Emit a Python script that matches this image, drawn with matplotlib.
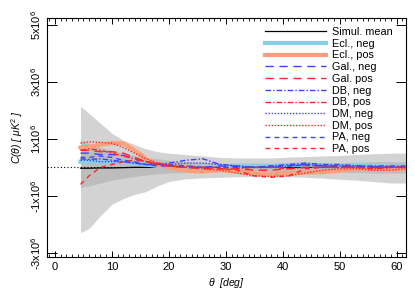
import matplotlib
matplotlib.use('Agg')
import matplotlib.pyplot as plt
from matplotlib.ticker import MultipleLocator, FixedLocator
import numpy as np

plt.rcParams['font.family'] = ['Liberation Sans', 'DejaVu Sans']
plt.rcParams['mathtext.fontset'] = 'custom'
plt.rcParams['mathtext.rm'] = 'Liberation Sans'
plt.rcParams['mathtext.it'] = 'Liberation Sans:italic'

# angular separation [deg]
theta = [4.5, 6, 8, 10, 12, 14, 16, 18, 20, 23, 26, 29, 32, 35, 38, 41, 44, 47, 50, 53, 56, 59, 61.5]

# simulation bands, in units of 1e6 uK^2
outer_hi = [2.15, 1.9, 1.55, 1.2, 0.95, 0.8, 0.65, 0.55, 0.5, 0.45, 0.4, 0.35, 0.33, 0.33, 0.33, 0.36, 0.38, 0.4, 0.42, 0.45, 0.48, 0.5, 0.5]
outer_lo = [-2.3, -2.15, -1.7, -1.3, -1.1, -0.95, -0.85, -0.65, -0.5, -0.4, -0.37, -0.35, -0.33, -0.33, -0.33, -0.33, -0.35, -0.38, -0.42, -0.45, -0.5, -0.55, -0.55]
inner_hi = [0.95, 0.85, 0.7, 0.6, 0.5, 0.42, 0.35, 0.3, 0.25, 0.2, 0.17, 0.15, 0.15, 0.15, 0.15, 0.15, 0.15, 0.17, 0.17, 0.18, 0.2, 0.2, 0.2]
inner_lo = [-0.7, -0.65, -0.55, -0.45, -0.38, -0.32, -0.27, -0.23, -0.2, -0.17, -0.15, -0.15, -0.15, -0.15, -0.15, -0.15, -0.15, -0.17, -0.17, -0.18, -0.2, -0.2, -0.2]
sim_mean = [-0.03, -0.03, -0.02, -0.02, -0.01, 0.0, 0.0, 0.0, 0.0, 0.0, 0.0, 0.0, 0.0, 0.0, 0.0, 0.0, 0.0, 0.0, 0.0, 0.0, 0.0, 0.0, 0.0]

ecl_neg = [0.2, 0.2, 0.2, 0.2, 0.18, 0.15, 0.1, 0.05, 0.02, 0.0, 0.0, 0.02, 0.05, 0.05, 0.05, 0.08, 0.1, 0.08, 0.05, 0.05, 0.05, 0.03, 0.03]
ecl_pos = [0.7, 0.72, 0.8, 0.85, 0.85, 0.6, 0.3, 0.1, 0.0, -0.12, -0.15, -0.1, -0.15, -0.22, -0.25, -0.2, -0.18, -0.17, -0.12, -0.05, -0.05, -0.05, -0.05]
gal_neg = [0.5, 0.5, 0.45, 0.45, 0.42, 0.3, 0.2, 0.1, 0.05, 0.0, 0.0, 0.05, 0.02, 0.0, 0.0, 0.05, 0.1, 0.05, 0.05, 0.05, 0.02, 0.02, 0.0]
gal_pos = [0.6, 0.6, 0.55, 0.55, 0.5, 0.35, 0.2, 0.1, 0.05, 0.0, -0.05, -0.05, -0.05, -0.1, -0.1, -0.05, 0.0, 0.0, 0.0, 0.0, 0.0, 0.0, 0.0]
db_neg = [0.3, 0.28, 0.3, 0.25, 0.2, 0.15, 0.1, 0.1, 0.15, 0.25, 0.3, 0.1, 0.05, 0.0, 0.05, 0.1, 0.15, 0.1, 0.1, 0.05, 0.05, 0.05, 0.05]
db_pos = [0.6, 0.65, 0.6, 0.5, 0.4, 0.3, 0.2, 0.15, 0.1, 0.05, 0.0, 0.0, -0.05, 0.0, 0.0, -0.05, 0.0, 0.0, 0.0, 0.0, -0.05, 0.0, 0.0]
dm_neg = [0.25, 0.25, 0.2, 0.2, 0.2, 0.15, 0.1, 0.1, 0.1, 0.15, 0.15, 0.1, 0.05, 0.0, 0.0, 0.05, 0.1, 0.05, 0.05, 0.05, 0.0, 0.0, 0.0]
dm_pos = [0.85, 0.9, 0.88, 0.85, 0.7, 0.5, 0.3, 0.15, 0.05, 0.0, -0.05, -0.1, -0.2, -0.3, -0.32, -0.3, -0.2, -0.1, -0.05, -0.05, -0.1, -0.1, -0.05]
pa_neg = [0.35, 0.35, 0.4, 0.35, 0.25, 0.2, 0.1, 0.05, 0.05, 0.05, 0.0, 0.0, 0.0, 0.0, 0.05, 0.05, 0.08, 0.05, 0.02, 0.0, 0.02, 0.0, 0.0]
pa_pos = [-0.6, -0.3, 0.0, 0.1, 0.2, 0.25, 0.2, 0.1, 0.05, 0.0, 0.0, -0.05, -0.1, -0.3, -0.35, -0.3, -0.05, 0.0, 0.0, 0.0, -0.05, 0.0, 0.0]

ytick_vals = [-3, -1, 1, 3, 5]
ytick_labels = [r'-3x10$^6$', r'-1x10$^6$', r'1x10$^6$', r'3x10$^6$', r'5x10$^6$']

scale = 1e6
th = np.array(theta)
def sc(v):
    return np.array(v) * scale

blue = (0.25, 0.25, 1.0)
red = (1.0, 0.15, 0.15)

fig = plt.figure(figsize=(4.15, 2.97), dpi=100)
ax = fig.add_axes([0.113, 0.135, 0.865, 0.804])

ax.fill_between(th, sc(outer_lo), sc(outer_hi), color='#d3d3d3', lw=0)
ax.fill_between(th, sc(inner_lo), sc(inner_hi), color='#bdbdbd', lw=0)
ax.axhline(0, color='black', lw=0.8, ls=(0, (1, 2)))

ax.plot(th, sc(sim_mean), color='black', lw=0.9, label='Simul. mean')
ax.plot(th, sc(ecl_neg), color='#87cee6', lw=3, label='Ecl., neg')
ax.plot(th, sc(ecl_pos), color='#ffa07a', lw=3, label='Ecl., pos')
ax.plot(th, sc(gal_neg), color=blue, lw=1, ls=(0, (6, 4)), label='Gal., neg')
ax.plot(th, sc(gal_pos), color=red, lw=1, ls=(0, (6, 4)), label='Gal. pos')
ax.plot(th, sc(db_neg), color=blue, lw=1, ls=(0, (4, 1.5, 1, 1.5)), label='DB, neg')
ax.plot(th, sc(db_pos), color=red, lw=1, ls=(0, (4, 1.5, 1, 1.5)), label='DB, pos')
ax.plot(th, sc(dm_neg), color=blue, lw=1, ls=(0, (1, 1.2)), label='DM, neg')
ax.plot(th, sc(dm_pos), color=red, lw=1, ls=(0, (1, 1.2)), label='DM, pos')
ax.plot(th, sc(pa_neg), color=blue, lw=1, ls=(0, (3.5, 3)), label='PA, neg')
ax.plot(th, sc(pa_pos), color=red, lw=1, ls=(0, (3.5, 3)), label='PA, pos')

ax.set_xlim(-1.4, 61.6)
ax.set_ylim(-3.15e6, 5.25e6)
ax.xaxis.set_major_locator(MultipleLocator(10))
ax.xaxis.set_minor_locator(MultipleLocator(1))
ax.yaxis.set_major_locator(FixedLocator([v * scale for v in ytick_vals]))
ax.set_yticklabels(ytick_labels, rotation=90, va='center')
ax.tick_params(axis='both', which='both', direction='in', top=True, right=True, labelsize=8)
ax.tick_params(axis='x', which='major', length=4, width=0.7)
ax.tick_params(axis='x', which='minor', length=2, width=0.6)
ax.tick_params(axis='y', which='major', length=7, width=0.7, pad=3)
for s in ax.spines.values():
    s.set_linewidth(0.8)

ax.set_xlabel(r'$\theta$  [deg]', fontsize=7.5, style='italic', labelpad=3)
ax.set_ylabel(r'C($\theta$) [ $\mu$K$^2$ ]', fontsize=7.5, style='italic', labelpad=3)

ax.legend(loc='upper right', frameon=False, fontsize=7.8, handlelength=5.6,
          labelspacing=0.16, handletextpad=0.6, borderaxespad=0.3,
          bbox_to_anchor=(0.985, 0.995))

plt.savefig('out.png', dpi=100)
